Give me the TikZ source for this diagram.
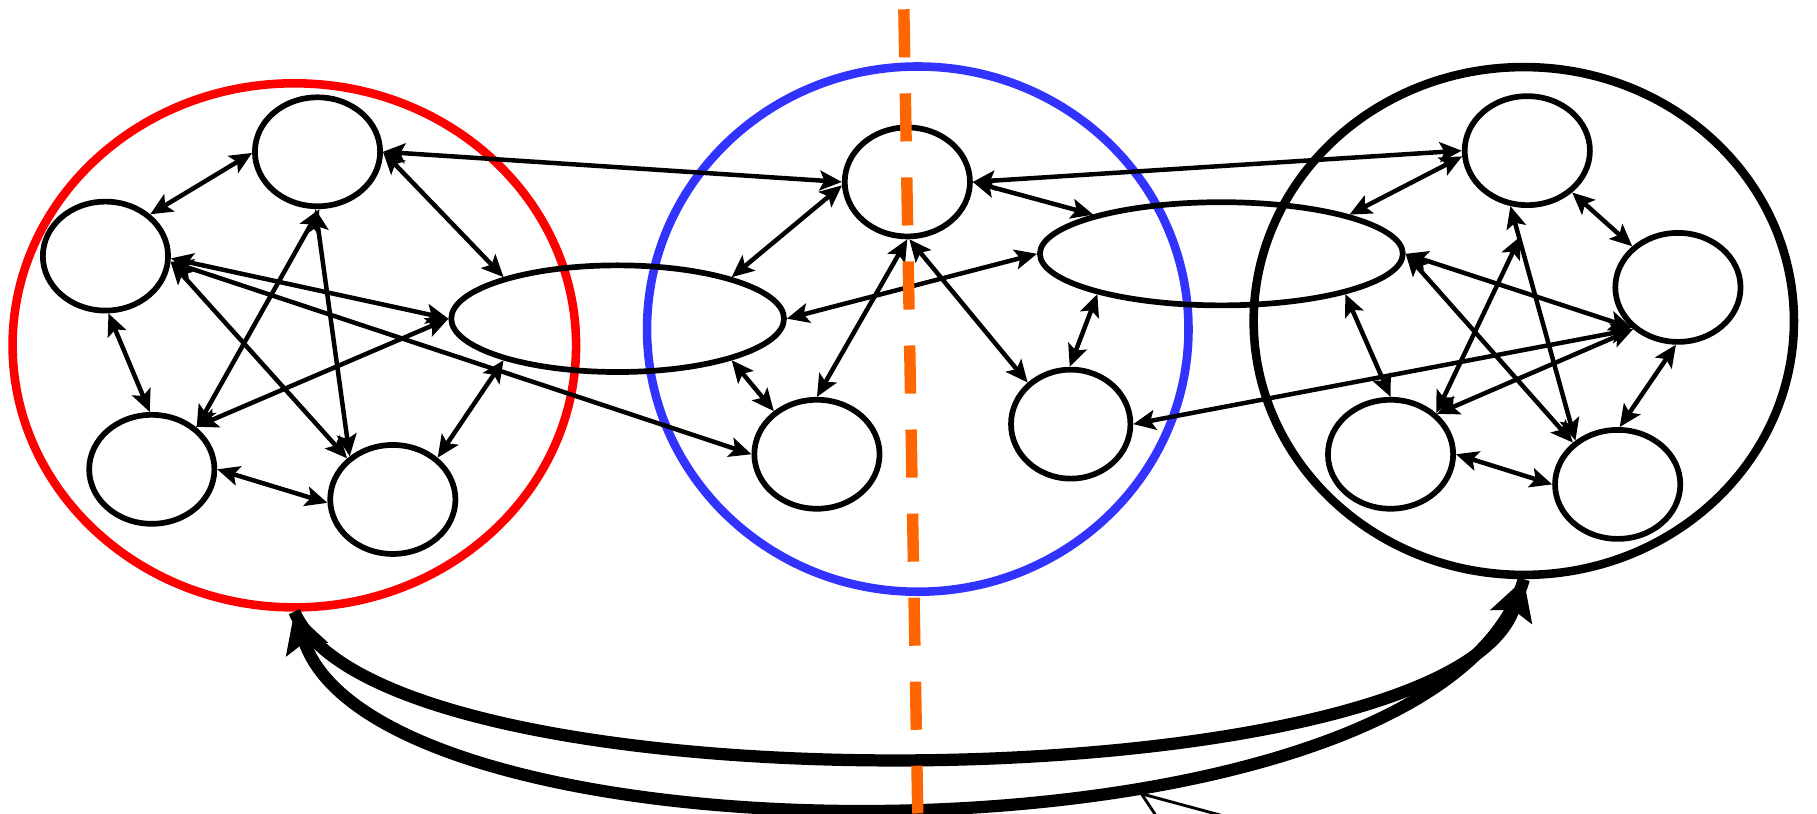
\documentclass[tikz,border=0pt]{standalone}
\usetikzlibrary{arrows.meta,shapes.geometric}
\definecolor{grpred}{RGB}{255,0,0}
\definecolor{grpblue}{RGB}{51,51,255}
\definecolor{cutorange}{RGB}{255,102,0}
\begin{document}
\begin{tikzpicture}[x=0.01cm,y=-0.01cm,
    proc/.style={ellipse,draw,line width=1.4pt,minimum width=1.08cm,minimum height=0.94cm,inner sep=0pt},
    wide/.style={ellipse,draw,line width=1.4pt,inner sep=0pt},
    group/.style={ellipse,draw,line width=2.1pt,inner sep=0pt},
    link/.style={line width=1.1pt,{Stealth[length=0.19cm,width=0.17cm,inset=0.04cm]}-{Stealth[length=0.19cm,width=0.17cm,inset=0.04cm]}},
    flow/.style={line width=3pt,-{Stealth[length=0.34cm,width=0.37cm,inset=0.06cm]}},
    feed/.style={line width=0.7pt},
    cutline/.style={draw=cutorange,line width=2.8pt,dash pattern=on 0.415cm off 0.31cm}]
  \useasboundingbox (0,0) rectangle (1568,702);
  \clip (0,0) rectangle (1568,702);

  \node[group,draw=grpred,minimum width=4.86cm,minimum height=4.52cm] (redset) at (254,298) {};
  \node[group,draw=grpblue,minimum width=4.67cm,minimum height=4.53cm] (blueset) at (792,284) {};
  \node[group,minimum width=4.66cm,minimum height=4.38cm] (blackset) at (1315,277) {};

  \node[proc] (l1) at (274,131) {};
  \node[proc] (l2) at (91,221) {};
  \node[proc] (l3) at (131,405) {};
  \node[proc] (l4) at (339,431) {};
  \node[wide,minimum width=2.87cm,minimum height=0.92cm] (e1) at (533,275) {};

  \node[proc] (m1) at (783,157) {};
  \node[proc] (m2) at (705,392) {};
  \node[proc,minimum width=1.03cm] (m3) at (924,366) {};
  \node[wide,minimum width=3.13cm,minimum height=0.89cm] (e2) at (1054,219) {};

  \node[proc] (r1) at (1318,130) {};
  \node[proc] (r2) at (1448,248) {};
  \node[proc] (r3) at (1200,392) {};
  \node[proc] (r4) at (1396,418) {};
  \coordinate (r1stub) at (1312,204);

  \draw[link] (l2.43) -- (l1.181);
  \draw[link] (l3.43) -- (l1.272);
  \draw[link] (l1.268) -- (l4.135);
  \draw[link] (l2.355) -- (l4.138);
  \draw[link] (l2.358) -- (e1.west);
  \draw[link] (l2.355) -- (m2.west);
  \draw[link] (l3.44) -- (e1.west);
  \draw[link] (l2.273) -- (l3.92);
  \draw[link] (l3.east) -- (l4.183);
  \draw[link] (l1.east) -- (e1.160);
  \draw[link] (e1.200) -- (l4.43);
  \draw[link] (l1.east) -- (m1.west);

  \draw[link] (m1.183) -- (e1.20);
  \draw[link] (m1.south) -- (m2.north);
  \draw[link] (m1.272) -- (m3.136);
  \draw[link] (m1.east) -- (e2.163);
  \draw[link] (e1.east) -- (e2.west);
  \draw[link] (e2.198) -- (m3.91);
  \draw[link] (e1.340) -- (m2.135);
  \draw[link] (m1.east) -- (r1.west);
  \draw[link] (r2.223) -- (m3.east);

  \draw[link] (e2.17) -- (r1.185);
  \draw[link] (e2.east) -- (r2.221);
  \draw[link] (e2.342) -- (r3.north);
  \draw[link] (e2.east) -- (r4.137);
  \draw[link] (r3.42) -- (r1stub);
  \draw[link] (r1.253) -- (r4.134);
  \draw[link] (r1.317) -- (r2.138);
  \draw[link] (r2.223) -- (r3.41);
  \draw[link] (r2.268) -- (r4.88);
  \draw[link] (r3.east) -- (r4.west);

  \draw[flow] (redset.south) .. controls (330,705) and (1250,694) .. (blackset.south);
  \draw[flow] (blackset.south) .. controls (1240,757) and (330,757) .. (redset.south);

  \coordinate (tap) at (985,685);
  \coordinate (offa) at (1003,712);
  \coordinate (offb) at (1085,712);
  \draw[feed] (tap) -- (offa);
  \draw[feed] (tap) -- (offb);

  \draw[cutline] (780,8) -- (792,702);
\end{tikzpicture}
\end{document}
